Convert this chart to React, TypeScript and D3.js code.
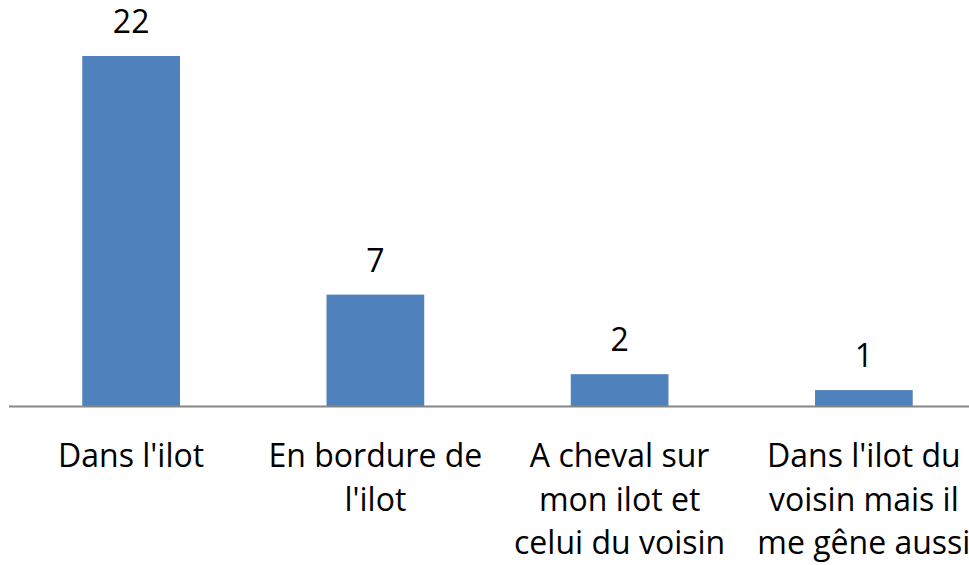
import React from 'react'
import * as d3 from 'd3'

// categories (line breaks as in the original chart)
const categories = [
    "Dans l'ilot",
    "En bordure de\nl'ilot",
    "A cheval sur\nmon ilot et\ncelui du voisin",
    "Dans l'ilot du\nvoisin mais il\nme gêne aussi",
]
const values = [22, 7, 2, 1]

const W = 969, H = 565
const FONT = "'Open Sans', sans-serif"

const App = () => {
    const baseline = 406
    const x = d3.scaleBand<number>()
        .domain(d3.range(categories.length))
        .range([9, 986])
        .paddingInner(0.6)
        .paddingOuter(0.3)
    const y = d3.scaleLinear()
        .domain([0, d3.max(values) as number])
        .range([baseline, 56])

    return (
        <svg width={W} height={H} style={{ position: 'absolute', left: 0, top: 0, display: 'block', background: '#fff' }}>
            {values.map((v, i) => (
                <g key={i}>
                    <rect x={x(i)} y={y(v)} width={x.bandwidth()} height={baseline - y(v)} fill="#4F81BD" />
                    <text x={(x(i) as number) + x.bandwidth() / 2} y={y(v) - 23}
                        textAnchor="middle" fontFamily={FONT} fontSize={32} fill="#000">{v}</text>
                </g>
            ))}
            <line x1={9} x2={W} y1={baseline + 0.5} y2={baseline + 0.5} stroke="#868686" strokeWidth={2} />
            {categories.map((c, i) => (
                <text key={i} x={(x(i) as number) + x.bandwidth() / 2} y={467}
                    textAnchor="middle" fontFamily={FONT} fontSize={32} fill="#000">
                    {c.split('\n').map((line, j) => (
                        <tspan key={j} x={(x(i) as number) + x.bandwidth() / 2} dy={j === 0 ? 0 : 43.5}>{line}</tspan>
                    ))}
                </text>
            ))}
        </svg>
    )
}

export default App
